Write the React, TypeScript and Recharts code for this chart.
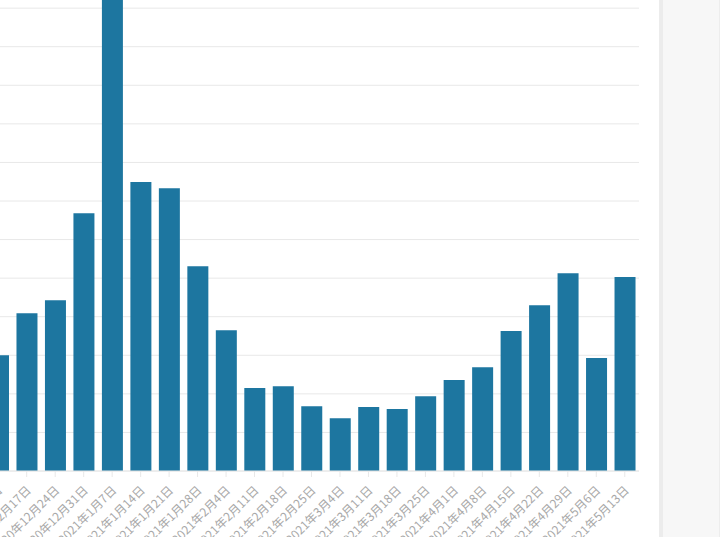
import { BarChart, Bar, XAxis, YAxis, CartesianGrid } from "recharts";

// 週ごとの日付（x軸ラベル）
const weeks = [
  "2020年12月10日", "2020年12月17日", "2020年12月24日", "2020年12月31日",
  "2021年1月7日", "2021年1月14日", "2021年1月21日", "2021年1月28日",
  "2021年2月4日", "2021年2月11日", "2021年2月18日", "2021年2月25日",
  "2021年3月4日", "2021年3月11日", "2021年3月18日", "2021年3月25日",
  "2021年4月1日", "2021年4月8日", "2021年4月15日", "2021年4月22日",
  "2021年4月29日", "2021年5月6日", "2021年5月13日",
];

// 各週の値
const counts = [
  300, 409, 443, 668, 1320, 749, 733, 531, 365, 215, 220, 168,
  137, 166, 161, 194, 236, 269, 363, 430, 513, 293, 503,
];

// y軸の目盛り
const yTicks = [0, 100, 200, 300, 400, 500, 600, 700, 800, 900, 1000, 1100, 1200, 1300, 1400];

const data = weeks.map((week, i) => ({ week, count: counts[i] }));

// 斜めの日付ラベル
function DateTick({ x, y, payload }: any) {
  const ax = x + 5;
  const ay = y + 12;
  return (
    <text
      x={ax}
      y={ay}
      transform={`rotate(-45, ${ax}, ${ay})`}
      textAnchor="end"
      fill="#a8a8a8"
      fontSize={12}
      fontFamily='"Noto Sans CJK JP", "Noto Sans", sans-serif'
    >
      {payload.value}
    </text>
  );
}

export default function App() {
  return (
    <div
      style={{
        position: "fixed",
        left: 0,
        top: 0,
        width: 720,
        height: 537,
        overflow: "hidden",
        background: "#ffffff",
      }}
    >
      <div style={{ position: "absolute", left: -16, top: -69 }}>
        <BarChart
          width={655}
          height={640}
          data={data}
          margin={{ top: 0, right: 0, bottom: 0, left: 0 }}
        >
          <CartesianGrid vertical={false} stroke="#e8e8e8" />
          <XAxis
            dataKey="week"
            interval={0}
            height={100}
            tick={<DateTick />}
            tickLine={{ stroke: "#e8e8e8" }}
            axisLine={{ stroke: "#e8e8e8" }}
            tickSize={6}
          />
          <YAxis hide domain={[0, 1400]} ticks={yTicks} width={0} />
          <Bar dataKey="count" fill="#1d76a0" barSize={21} isAnimationActive={false} />
        </BarChart>
      </div>
      {/* 右側のパネル */}
      <div
        style={{
          position: "absolute",
          left: 659,
          top: 0,
          width: 56,
          height: 537,
          background: "#f7f7f7",
          borderLeft: "4px solid #ececec",
          borderRight: "1px solid #ededed",
        }}
      />
    </div>
  );
}
